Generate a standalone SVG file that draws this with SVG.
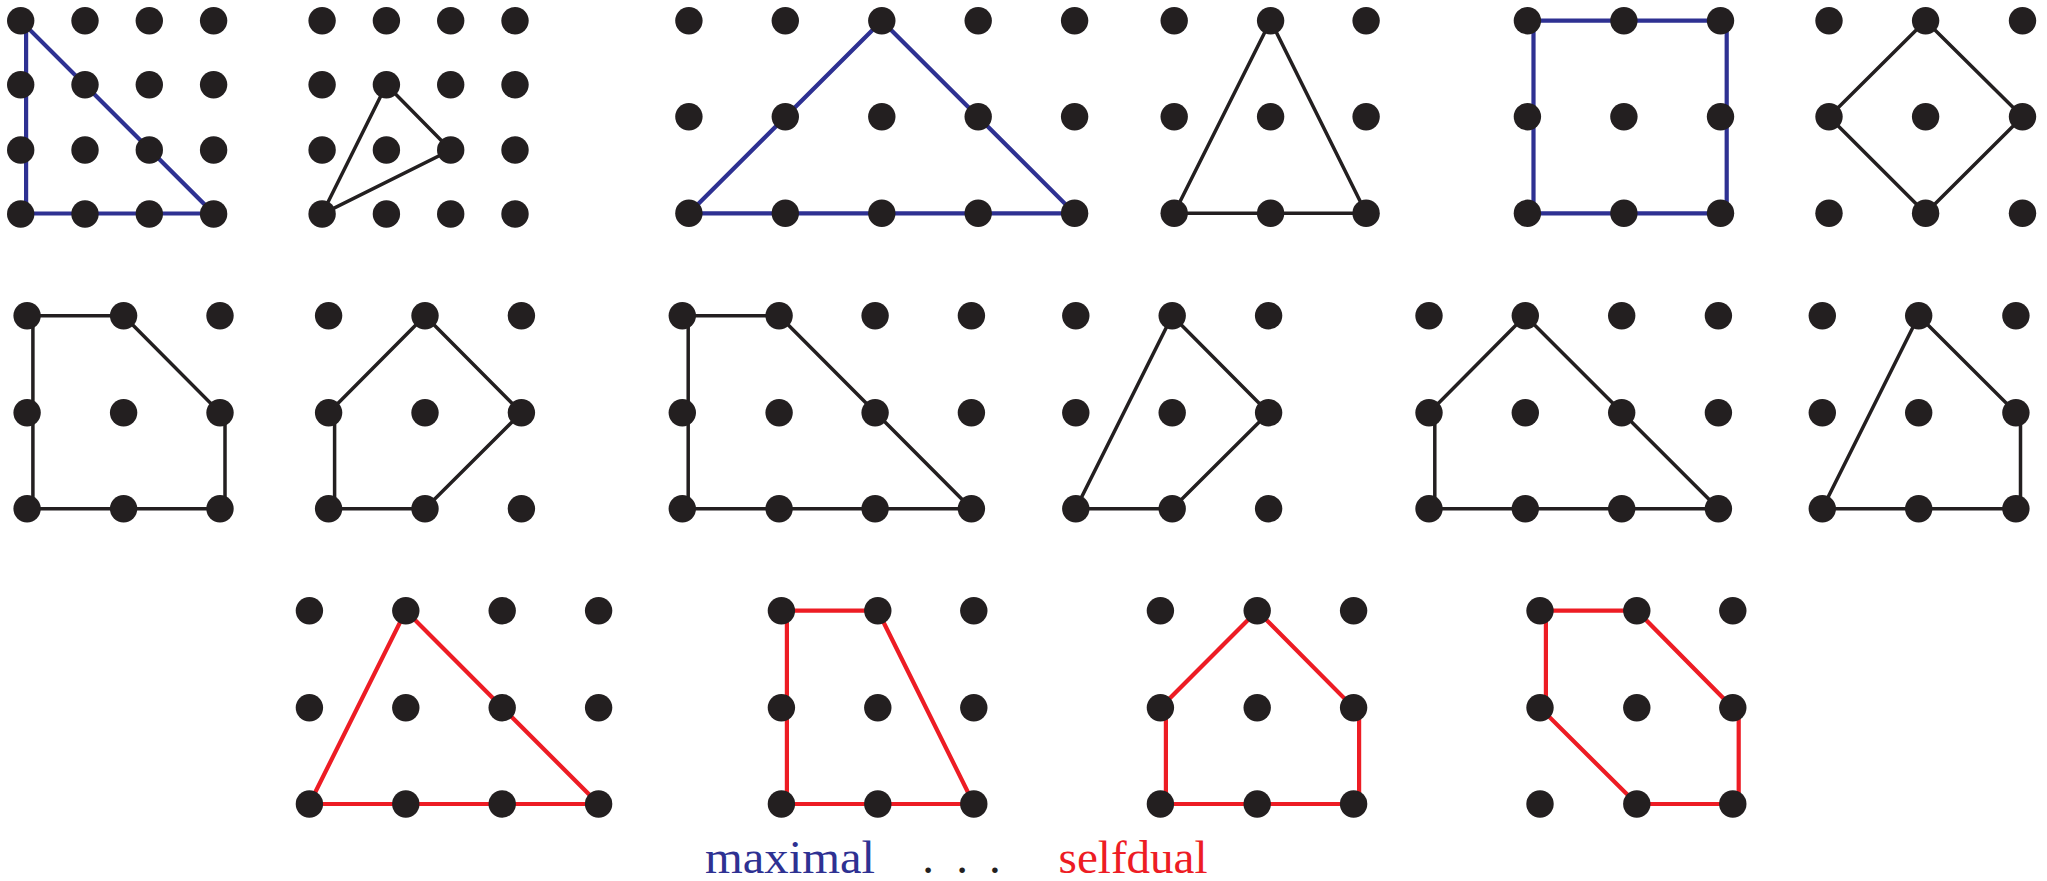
<svg xmlns="http://www.w3.org/2000/svg" xmlns:xlink="http://www.w3.org/1999/xlink" width="2047" height="881" viewBox="0 0 2047 881">
<style>
.d{fill:#231f20}
.k{fill:none;stroke:#231f20;stroke-width:3.5;stroke-linejoin:miter}
.b{fill:none;stroke:#2e3192;stroke-width:4.2;stroke-linejoin:miter}
.r{fill:none;stroke:#ed1c24;stroke-width:4.2;stroke-linejoin:miter}
.t{font-family:"Liberation Serif","Times New Roman",serif;font-size:47px}
</style>
<defs><circle id="p" r="13.7"/></defs>
<rect width="2047" height="881" fill="#fff"/>
<g id="connectors">
<polygon class="b" points="26.1,20.7 26.1,213.5 213.6,213.5 20.7,20.7"/>
<polygon class="k" points="322.1,214 386.4,84.7 450.7,150"/>
<polygon class="b" points="688.9,213.3 881.8,20.7 1074.6,213.3"/>
<polygon class="k" points="1174.2,213.3 1270.6,20.7 1366.1,213.3"/>
<polygon class="b" points="1533.5,20.7 1726.7,20.7 1726.7,213.3 1533.5,213.3"/>
<polygon class="k" points="1925.6,20.7 2022.5,116.7 1925.6,213.3 1829,116.7"/>
<polygon class="k" points="32.9,315.7 123.6,315.7 220,412.7 225,416 225,508.7 32.9,508.7"/>
<polygon class="k" points="425,315.7 521.4,412.7 425,508.7 334.6,508.7 334.6,412.7 328.6,412.7"/>
<polygon class="k" points="688.2,315.7 779.1,315.7 971.4,508.7 688.2,508.7"/>
<polygon class="k" points="1172.2,315.7 1268.6,412.7 1172.2,508.7 1075.8,508.7"/>
<polygon class="k" points="1525.3,315.7 1718.4,508.7 1434.8,508.7 1434.8,412.7 1429,412.7"/>
<polygon class="k" points="1918.7,315.7 2015.9,412.7 2020.5,416 2020.5,508.7 1822.3,508.7"/>
<polygon class="r" points="405.8,610.7 598.6,804 309.4,804"/>
<polygon class="r" points="786.9,610.7 877.8,610.7 973.8,804 786.9,804"/>
<polygon class="r" points="1257.2,610.7 1353.6,707.7 1359.1,711 1359.1,804 1165.9,804 1165.9,707.7 1160.4,707.7"/>
<polygon class="r" points="1545.9,610.7 1636.8,610.7 1732.8,707.7 1738.7,711 1738.7,804 1636.8,804 1540,707.7 1545.9,707.7"/>
</g>
<g id="fig1" class="d">
<use href="#p" x="20.7" y="20.7"/><use href="#p" x="85" y="20.7"/><use href="#p" x="149.3" y="20.7"/><use href="#p" x="213.6" y="20.7"/>
<use href="#p" x="20.7" y="84.7"/><use href="#p" x="85" y="84.7"/><use href="#p" x="149.3" y="84.7"/><use href="#p" x="213.6" y="84.7"/>
<use href="#p" x="20.7" y="150"/><use href="#p" x="85" y="150"/><use href="#p" x="149.3" y="150"/><use href="#p" x="213.6" y="150"/>
<use href="#p" x="20.7" y="214"/><use href="#p" x="85" y="214"/><use href="#p" x="149.3" y="214"/><use href="#p" x="213.6" y="214"/>
</g>
<g id="fig2" class="d">
<use href="#p" x="322.1" y="20.7"/><use href="#p" x="386.4" y="20.7"/><use href="#p" x="450.7" y="20.7"/><use href="#p" x="515" y="20.7"/>
<use href="#p" x="322.1" y="84.7"/><use href="#p" x="386.4" y="84.7"/><use href="#p" x="450.7" y="84.7"/><use href="#p" x="515" y="84.7"/>
<use href="#p" x="322.1" y="150"/><use href="#p" x="386.4" y="150"/><use href="#p" x="450.7" y="150"/><use href="#p" x="515" y="150"/>
<use href="#p" x="322.1" y="214"/><use href="#p" x="386.4" y="214"/><use href="#p" x="450.7" y="214"/><use href="#p" x="515" y="214"/>
</g>
<g id="fig3" class="d">
<use href="#p" x="688.9" y="20.7"/><use href="#p" x="785.3" y="20.7"/><use href="#p" x="881.8" y="20.7"/><use href="#p" x="978.2" y="20.7"/><use href="#p" x="1074.6" y="20.7"/>
<use href="#p" x="688.9" y="116.7"/><use href="#p" x="785.3" y="116.7"/><use href="#p" x="881.8" y="116.7"/><use href="#p" x="978.2" y="116.7"/><use href="#p" x="1074.6" y="116.7"/>
<use href="#p" x="688.9" y="213.3"/><use href="#p" x="785.3" y="213.3"/><use href="#p" x="881.8" y="213.3"/><use href="#p" x="978.2" y="213.3"/><use href="#p" x="1074.6" y="213.3"/>
</g>
<g id="fig4" class="d">
<use href="#p" x="1174.2" y="20.7"/><use href="#p" x="1270.6" y="20.7"/><use href="#p" x="1366.1" y="20.7"/>
<use href="#p" x="1174.2" y="116.7"/><use href="#p" x="1270.6" y="116.7"/><use href="#p" x="1366.1" y="116.7"/>
<use href="#p" x="1174.2" y="213.3"/><use href="#p" x="1270.6" y="213.3"/><use href="#p" x="1366.1" y="213.3"/>
</g>
<g id="fig5" class="d">
<use href="#p" x="1527.4" y="20.7"/><use href="#p" x="1623.9" y="20.7"/><use href="#p" x="1720.5" y="20.7"/>
<use href="#p" x="1527.4" y="116.7"/><use href="#p" x="1623.9" y="116.7"/><use href="#p" x="1720.5" y="116.7"/>
<use href="#p" x="1527.4" y="213.3"/><use href="#p" x="1623.9" y="213.3"/><use href="#p" x="1720.5" y="213.3"/>
</g>
<g id="fig6" class="d">
<use href="#p" x="1829" y="20.7"/><use href="#p" x="1925.6" y="20.7"/><use href="#p" x="2022.5" y="20.7"/>
<use href="#p" x="1829" y="116.7"/><use href="#p" x="1925.6" y="116.7"/><use href="#p" x="2022.5" y="116.7"/>
<use href="#p" x="1829" y="213.3"/><use href="#p" x="1925.6" y="213.3"/><use href="#p" x="2022.5" y="213.3"/>
</g>
<g id="fig7" class="d">
<use href="#p" x="27.1" y="315.7"/><use href="#p" x="123.6" y="315.7"/><use href="#p" x="220" y="315.7"/>
<use href="#p" x="27.1" y="412.7"/><use href="#p" x="123.6" y="412.7"/><use href="#p" x="220" y="412.7"/>
<use href="#p" x="27.1" y="508.7"/><use href="#p" x="123.6" y="508.7"/><use href="#p" x="220" y="508.7"/>
</g>
<g id="fig8" class="d">
<use href="#p" x="328.6" y="315.7"/><use href="#p" x="425" y="315.7"/><use href="#p" x="521.4" y="315.7"/>
<use href="#p" x="328.6" y="412.7"/><use href="#p" x="425" y="412.7"/><use href="#p" x="521.4" y="412.7"/>
<use href="#p" x="328.6" y="508.7"/><use href="#p" x="425" y="508.7"/><use href="#p" x="521.4" y="508.7"/>
</g>
<g id="fig9" class="d">
<use href="#p" x="682.3" y="315.7"/><use href="#p" x="779.1" y="315.7"/><use href="#p" x="875.1" y="315.7"/><use href="#p" x="971.4" y="315.7"/>
<use href="#p" x="682.3" y="412.7"/><use href="#p" x="779.1" y="412.7"/><use href="#p" x="875.1" y="412.7"/><use href="#p" x="971.4" y="412.7"/>
<use href="#p" x="682.3" y="508.7"/><use href="#p" x="779.1" y="508.7"/><use href="#p" x="875.1" y="508.7"/><use href="#p" x="971.4" y="508.7"/>
</g>
<g id="fig10" class="d">
<use href="#p" x="1075.8" y="315.7"/><use href="#p" x="1172.2" y="315.7"/><use href="#p" x="1268.6" y="315.7"/>
<use href="#p" x="1075.8" y="412.7"/><use href="#p" x="1172.2" y="412.7"/><use href="#p" x="1268.6" y="412.7"/>
<use href="#p" x="1075.8" y="508.7"/><use href="#p" x="1172.2" y="508.7"/><use href="#p" x="1268.6" y="508.7"/>
</g>
<g id="fig11" class="d">
<use href="#p" x="1429" y="315.7"/><use href="#p" x="1525.3" y="315.7"/><use href="#p" x="1621.7" y="315.7"/><use href="#p" x="1718.4" y="315.7"/>
<use href="#p" x="1429" y="412.7"/><use href="#p" x="1525.3" y="412.7"/><use href="#p" x="1621.7" y="412.7"/><use href="#p" x="1718.4" y="412.7"/>
<use href="#p" x="1429" y="508.7"/><use href="#p" x="1525.3" y="508.7"/><use href="#p" x="1621.7" y="508.7"/><use href="#p" x="1718.4" y="508.7"/>
</g>
<g id="fig12" class="d">
<use href="#p" x="1822.3" y="315.7"/><use href="#p" x="1918.7" y="315.7"/><use href="#p" x="2015.9" y="315.7"/>
<use href="#p" x="1822.3" y="412.7"/><use href="#p" x="1918.7" y="412.7"/><use href="#p" x="2015.9" y="412.7"/>
<use href="#p" x="1822.3" y="508.7"/><use href="#p" x="1918.7" y="508.7"/><use href="#p" x="2015.9" y="508.7"/>
</g>
<g id="fig13" class="d">
<use href="#p" x="309.4" y="610.7"/><use href="#p" x="405.8" y="610.7"/><use href="#p" x="502.2" y="610.7"/><use href="#p" x="598.6" y="610.7"/>
<use href="#p" x="309.4" y="707.7"/><use href="#p" x="405.8" y="707.7"/><use href="#p" x="502.2" y="707.7"/><use href="#p" x="598.6" y="707.7"/>
<use href="#p" x="309.4" y="804"/><use href="#p" x="405.8" y="804"/><use href="#p" x="502.2" y="804"/><use href="#p" x="598.6" y="804"/>
</g>
<g id="fig14" class="d">
<use href="#p" x="781.4" y="610.7"/><use href="#p" x="877.8" y="610.7"/><use href="#p" x="973.8" y="610.7"/>
<use href="#p" x="781.4" y="707.7"/><use href="#p" x="877.8" y="707.7"/><use href="#p" x="973.8" y="707.7"/>
<use href="#p" x="781.4" y="804"/><use href="#p" x="877.8" y="804"/><use href="#p" x="973.8" y="804"/>
</g>
<g id="fig15" class="d">
<use href="#p" x="1160.4" y="610.7"/><use href="#p" x="1257.2" y="610.7"/><use href="#p" x="1353.6" y="610.7"/>
<use href="#p" x="1160.4" y="707.7"/><use href="#p" x="1257.2" y="707.7"/><use href="#p" x="1353.6" y="707.7"/>
<use href="#p" x="1160.4" y="804"/><use href="#p" x="1257.2" y="804"/><use href="#p" x="1353.6" y="804"/>
</g>
<g id="fig16" class="d">
<use href="#p" x="1540" y="610.7"/><use href="#p" x="1636.8" y="610.7"/><use href="#p" x="1732.8" y="610.7"/>
<use href="#p" x="1540" y="707.7"/><use href="#p" x="1636.8" y="707.7"/><use href="#p" x="1732.8" y="707.7"/>
<use href="#p" x="1540" y="804"/><use href="#p" x="1636.8" y="804"/><use href="#p" x="1732.8" y="804"/>
</g>
<g id="labels">
<text class="t" x="705" y="873" fill="#2e3192" textLength="170" lengthAdjust="spacingAndGlyphs">maximal</text>
<text class="t" x="922.3 956.2 989.1" y="873" fill="#231f20">...</text>
<text class="t" x="1058.6" y="873" fill="#ed1c24" textLength="149" lengthAdjust="spacingAndGlyphs">selfdual</text>
</g>
</svg>
